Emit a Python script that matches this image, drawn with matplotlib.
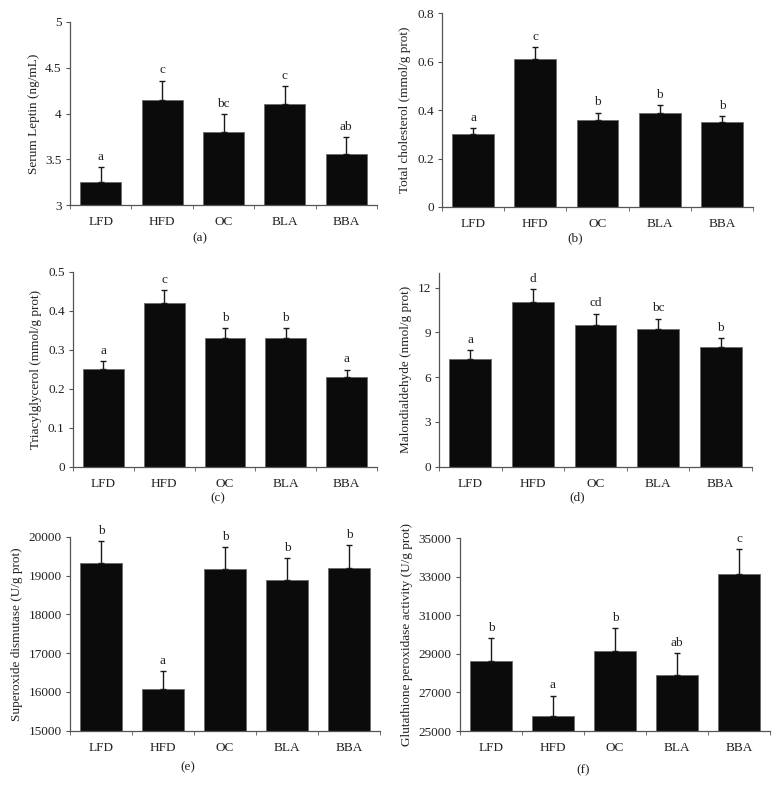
import matplotlib
matplotlib.use("Agg")
import matplotlib.pyplot as plt
import numpy as np

plt.rcParams['font.family'] = ['Liberation Serif', 'DejaVu Serif']

groups = ["LFD", "HFD", "OC", "BLA", "BBA"]

leptin = [3.25, 4.15, 3.80, 4.10, 3.56]
leptin_err = [0.16, 0.21, 0.19, 0.20, 0.18]
leptin_sig = ["a", "c", "bc", "c", "ab"]

chol = [0.30, 0.61, 0.36, 0.39, 0.35]
chol_err = [0.025, 0.05, 0.03, 0.03, 0.027]
chol_sig = ["a", "c", "b", "b", "b"]

tag = [0.25, 0.42, 0.33, 0.33, 0.23]
tag_err = [0.02, 0.033, 0.026, 0.026, 0.019]
tag_sig = ["a", "c", "b", "b", "a"]

mda = [7.2, 11.04, 9.5, 9.21, 8.0]
mda_err = [0.6, 0.85, 0.76, 0.72, 0.64]
mda_sig = ["a", "d", "cd", "bc", "b"]

sod = [19313, 16065, 19167, 18883, 19184]
sod_err = [575, 480, 575, 576, 593]
sod_sig = ["b", "a", "b", "b", "b"]

gpx = [28633, 25779, 29152, 27907, 33149]
gpx_err = [1177, 1055, 1177, 1124, 1297]
gpx_sig = ["b", "a", "b", "ab", "c"]

W, H = 778, 797
fig = plt.figure(figsize=(W/100, H/100), dpi=100)

def make_ax(l, r, t, b):
    return fig.add_axes([l/W, 1 - b/H, (r-l)/W, (b-t)/H])

panels = [
    dict(box=(70, 377, 22, 205), vals=leptin, err=leptin_err, sig=leptin_sig,
         ylim=(3, 5), yticks=[3, 3.5, 4, 4.5, 5],
         ylabel="Serum Leptin (ng/mL)", lab="(a)", labpos=(200, 238)),
    dict(box=(442, 753, 13.3, 207), vals=chol, err=chol_err, sig=chol_sig,
         ylim=(0, 0.8), yticks=[0, 0.2, 0.4, 0.6, 0.8],
         ylabel="Total cholesterol (mmol/g prot)", lab="(b)", labpos=(575, 238)),
    dict(box=(73, 377, 271.7, 466.7), vals=tag, err=tag_err, sig=tag_sig,
         ylim=(0, 0.5), yticks=[0, 0.1, 0.2, 0.3, 0.4, 0.5],
         ylabel="Triacylglycerol (mmol/g prot)", lab="(c)", labpos=(218, 498)),
    dict(box=(439, 752, 272.7, 466.7), vals=mda, err=mda_err, sig=mda_sig,
         ylim=(0, 13), yticks=[0, 3, 6, 9, 12],
         ylabel="Malondialdehyde (nmol/g prot)", lab="(d)", labpos=(577, 497)),
    dict(box=(70, 380, 536.7, 730.7), vals=sod, err=sod_err, sig=sod_sig,
         ylim=(15000, 20000), yticks=[15000, 16000, 17000, 18000, 19000, 20000],
         ylabel="Superoxide dismutase (U/g prot)", lab="(e)", labpos=(188, 767)),
    dict(box=(460, 770, 538.3, 731), vals=gpx, err=gpx_err, sig=gpx_sig,
         ylim=(25000, 35000), yticks=[25000, 27000, 29000, 31000, 33000, 35000],
         ylabel="Glutathione peroxidase activity (U/g prot)", lab="(f)", labpos=(583, 770)),
]

axcol = "#555555"
for p in panels:
    ax = make_ax(*p["box"])
    x = np.arange(len(groups))
    base = p["ylim"][0]
    heights = np.array(p["vals"]) - base
    ax.bar(x, heights, bottom=base, width=0.67, color="#0b0b0b",
           edgecolor="#6a6a6a", linewidth=0.6, zorder=2)
    ax.errorbar(x, p["vals"], yerr=[np.zeros(len(x)), p["err"]], fmt="none",
                ecolor="#1a1a1a", elinewidth=1.0, capsize=2, capthick=1.0, zorder=3)
    for xi, v, e, s in zip(x, p["vals"], p["err"], p["sig"]):
        ax.annotate(s, (xi, v + e), xytext=(0, 3), textcoords="offset points",
                    ha="center", va="bottom", fontsize=9.5, color="#222222")
    ax.set_xlim(-0.5, len(groups) - 0.5)
    ax.set_ylim(*p["ylim"])
    ax.set_yticks(p["yticks"])
    ax.set_yticklabels([f"{v:g}" for v in p["yticks"]], fontsize=9.5, color="#222222")
    ax.set_xticks(x)
    ax.set_xticklabels(groups, fontsize=9.5, color="#222222")
    ax.set_xticks(np.arange(-0.5, len(groups)), minor=True)
    ax.tick_params(axis="x", which="major", length=0, pad=8)
    ax.tick_params(axis="x", which="minor", length=3, direction="out", color=axcol)
    ax.tick_params(axis="y", which="major", length=3, direction="out", color=axcol, pad=3)
    for sp in ["top", "right"]:
        ax.spines[sp].set_visible(False)
    for sp in ["left", "bottom"]:
        ax.spines[sp].set_color(axcol)
        ax.spines[sp].set_linewidth(0.9)
    ax.set_ylabel(p["ylabel"], fontsize=9.5, color="#222222", labelpad=4)
    lx, ly = p["labpos"]
    fig.text(lx/W, 1 - ly/H, p["lab"], ha="center", va="center", fontsize=9.5, color="#222222")

fig.savefig("out.png", dpi=100)
